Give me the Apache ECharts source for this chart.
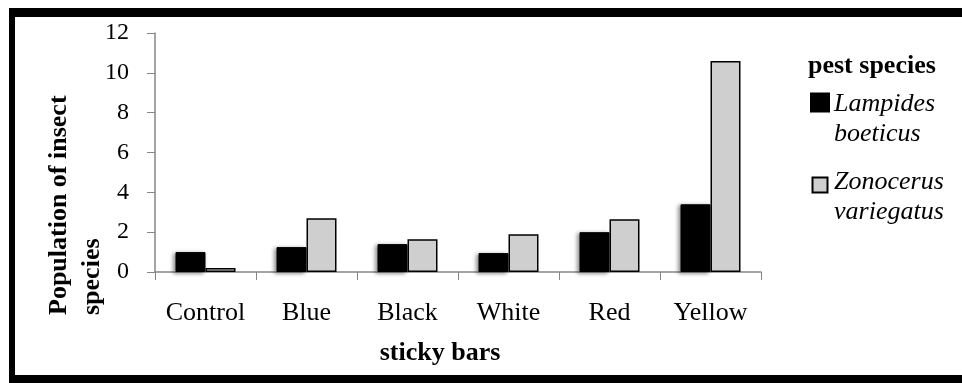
<!DOCTYPE html>
<html>
<head>
<meta charset="utf-8">
<script src="https://cdn.jsdelivr.net/npm/echarts@6/dist/echarts.min.js"></script>
<style>
html,body{margin:0;padding:0;background:#fff;}
#chart{width:962px;height:383px;}
</style>
</head>
<body>
<div id="chart"></div>
<script>
const categories = ['Control', 'Blue', 'Black', 'White', 'Red', 'Yellow'];
const lampides = [1.0, 1.25, 1.4, 0.95, 2.0, 3.4];
const zonocerus = [0.2, 2.7, 1.65, 1.9, 2.65, 10.6];
const seriesNames = ['Lampides\nboeticus', 'Zonocerus\nvariegatus'];
const yTicks = { min: 0, max: 12, interval: 2 };
const xTitle = 'sticky bars';
const yTitle = 'Population of insect\nspecies';
const legendTitle = 'pest species';

const FONT = '"Liberation Serif", "Times New Roman", serif';
const chart = echarts.init(document.getElementById('chart'), null, { renderer: 'canvas' });

// legend icons: square drawn near the top of a tall item box so it lines up with the first text line
const iconBlack = 'path://M0,0M18,60M0,4.5L18,4.5L18,22.5L0,22.5Z';
const iconGray = 'path://M0,0M18,60M1.5,10.5L16.5,10.5L16.5,25.5L1.5,25.5Z';

chart.setOption({
  animation: false,
  backgroundColor: '#fff',
  title: {
    text: legendTitle, left: 808, top: 53, padding: 0,
    textStyle: { fontFamily: FONT, fontWeight: 'bold', fontSize: 26, color: '#000' }
  },
  legend: {
    orient: 'vertical', left: 810, top: 88, padding: 0, itemWidth: 18, itemHeight: 60, itemGap: 16,
    textStyle: { fontFamily: FONT, fontStyle: 'italic', fontSize: 26, lineHeight: 30, color: '#000' },
    data: [
      { name: seriesNames[0], icon: iconBlack },
      { name: seriesNames[1], icon: iconGray }
    ]
  },
  grid: { left: 155, right: 201, top: 33, bottom: 111, containLabel: false },
  xAxis: {
    type: 'category', data: categories,
    name: xTitle, nameLocation: 'middle', nameGap: 68,
    nameTextStyle: { fontFamily: FONT, fontWeight: 'bold', fontSize: 26, color: '#000', padding: [0, 36, 0, 0] },
    axisLine: { lineStyle: { color: '#868686', width: 1.5 } },
    axisTick: { show: true, length: 8, lineStyle: { color: '#868686', width: 1 } },
    axisLabel: { interval: 0, fontFamily: FONT, fontSize: 26, color: '#000', margin: 28 }
  },
  yAxis: {
    type: 'value', min: yTicks.min, max: yTicks.max, interval: yTicks.interval,
    axisLine: { show: true, lineStyle: { color: '#868686', width: 1.5 } },
    axisTick: { show: true, length: 8, lineStyle: { color: '#868686', width: 1 } },
    splitLine: { show: false },
    axisLabel: { fontFamily: FONT, fontSize: 24, color: '#000', margin: 26 }
  },
  graphic: [
    { type: 'rect', shape: { x: 9, y: 8, width: 960, height: 9 }, style: { fill: '#000' }, silent: true },
    { type: 'rect', shape: { x: 9, y: 375, width: 960, height: 8 }, style: { fill: '#000' }, silent: true },
    { type: 'rect', shape: { x: 9, y: 8, width: 6, height: 375 }, style: { fill: '#000' }, silent: true },
    {
      type: 'text', x: 43, y: 315, rotation: Math.PI / 2,
      style: {
        text: yTitle, x: 0, y: 0, align: 'left', verticalAlign: 'top',
        font: 'bold 26px ' + FONT, lineHeight: 33, fill: '#000'
      },
      silent: true
    }
  ],
  series: [
    {
      name: seriesNames[0], type: 'bar', data: lampides, barWidth: 30, barGap: '0%',
      itemStyle: { color: '#000', borderColor: '#000', borderWidth: 1, shadowColor: 'rgba(0,0,0,0.45)', shadowBlur: 4, shadowOffsetX: -2, shadowOffsetY: 1 }
    },
    {
      name: seriesNames[1], type: 'bar', data: zonocerus, barWidth: 30, barGap: '0%',
      itemStyle: { color: '#d0cfd0', borderColor: '#000', borderWidth: 1.5 }
    }
  ]
});
</script>
</body>
</html>
